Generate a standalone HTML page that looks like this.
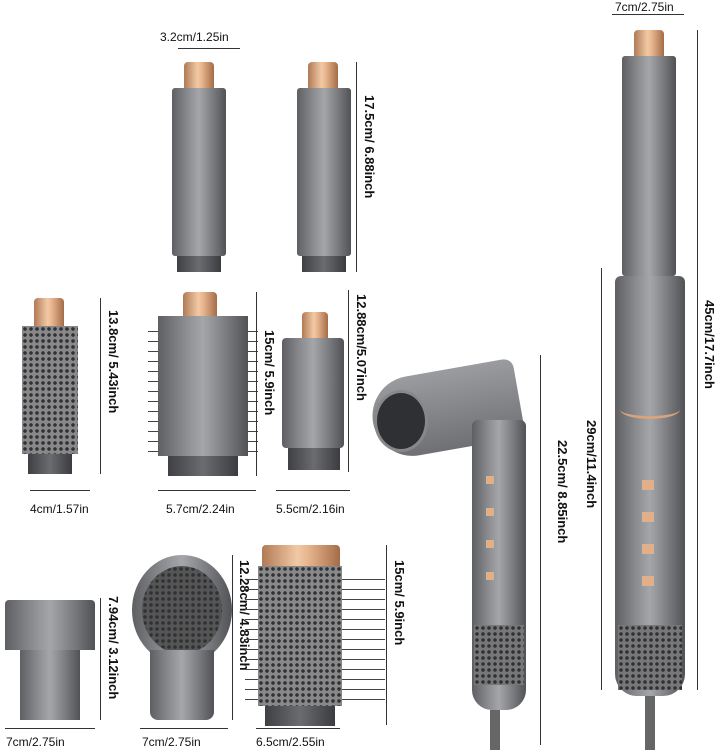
<!DOCTYPE html>
<html><head><meta charset="utf-8"><style>
body{margin:0;width:720px;height:750px;background:#fff;position:relative;overflow:hidden;font-family:"Liberation Sans",sans-serif;color:#111}
.a{position:absolute}
.g{background:linear-gradient(90deg,#5d5f63,#8a8c90 30%,#a4a6aa 50%,#7b7d81 75%,#505256)}
.cu{background:linear-gradient(90deg,#b07a55,#f2c9a5 45%,#e6b48c 60%,#a36c48);border-radius:4px 4px 0 0}
.dk{background:linear-gradient(90deg,#3e4044,#6a6c70 50%,#3a3c40)}
.t{position:absolute;font-size:12px;white-space:nowrap}
.v{writing-mode:vertical-rl;font-size:13px;font-weight:bold;position:absolute;white-space:nowrap}
.hl{position:absolute;height:1px;background:#333}
.vl{position:absolute;width:1px;background:#333}
.dots{background-image:radial-gradient(circle,#2f3135 1.6px,transparent 2px);background-size:6px 6px}
.bri{background-image:repeating-linear-gradient(180deg,transparent 0 9px,#444 9px 10px)}
</style></head><body>
<!-- top barrels -->
<div class="t" style="left:160px;top:30px">3.2cm/1.25in</div>
<div class="hl" style="left:178px;top:48px;width:62px"></div>
<div class="a cu" style="left:184px;top:62px;width:30px;height:28px"></div>
<div class="a g" style="left:172px;top:88px;width:54px;height:168px;border-radius:3px"></div>
<div class="a dk" style="left:177px;top:256px;width:44px;height:16px"></div>
<div class="a cu" style="left:308px;top:62px;width:30px;height:28px"></div>
<div class="a g" style="left:297px;top:88px;width:54px;height:168px;border-radius:3px"></div>
<div class="a dk" style="left:302px;top:256px;width:44px;height:16px"></div>
<div class="vl" style="left:356px;top:62px;height:210px"></div>
<div class="v" style="left:362px;top:95px">17.5cm/ 6.88inch</div>
<!-- row2 -->
<div class="a cu" style="left:34px;top:298px;width:30px;height:28px"></div>
<div class="a g dots" style="left:22px;top:326px;width:56px;height:128px;background-color:#888"></div>
<div class="a dk" style="left:28px;top:454px;width:44px;height:20px"></div>
<div class="vl" style="left:100px;top:298px;height:176px"></div>
<div class="v" style="left:106px;top:310px">13.8cm/ 5.43inch</div>
<div class="a cu" style="left:183px;top:292px;width:34px;height:26px"></div>
<div class="a bri" style="left:148px;top:322px;width:110px;height:130px"></div>
<div class="a g" style="left:158px;top:316px;width:90px;height:140px"></div>
<div class="a dk" style="left:168px;top:456px;width:70px;height:20px"></div>
<div class="vl" style="left:256px;top:292px;height:184px"></div>
<div class="v" style="left:262px;top:330px">15cm/ 5.9inch</div>
<div class="a cu" style="left:302px;top:312px;width:26px;height:26px"></div>
<div class="a g" style="left:282px;top:338px;width:62px;height:110px;border-radius:4px"></div>
<div class="a dk" style="left:288px;top:448px;width:52px;height:22px"></div>
<div class="vl" style="left:348px;top:290px;height:182px"></div>
<div class="v" style="left:354px;top:294px">12.88cm/5.07inch</div>
<div class="hl" style="left:30px;top:490px;width:60px"></div>
<div class="t" style="left:30px;top:502px">4cm/1.57in</div>
<div class="hl" style="left:158px;top:490px;width:98px"></div>
<div class="t" style="left:166px;top:502px">5.7cm/2.24in</div>
<div class="hl" style="left:276px;top:490px;width:74px"></div>
<div class="t" style="left:276px;top:502px">5.5cm/2.16in</div>
<!-- row3 -->
<div class="a g" style="left:5px;top:600px;width:90px;height:50px;border-radius:4px 4px 0 0"></div>
<div class="a g" style="left:20px;top:650px;width:60px;height:70px"></div>
<div class="vl" style="left:100px;top:598px;height:122px"></div>
<div class="v" style="left:106px;top:596px">7.94cm/ 3.12inch</div>
<div class="a g" style="left:132px;top:555px;width:100px;height:110px;border-radius:50%"></div>
<div class="a dots" style="left:142px;top:566px;width:80px;height:88px;border-radius:50%;background-color:#555"></div>
<div class="a g" style="left:150px;top:650px;width:64px;height:70px;border-radius:0 0 8px 8px"></div>
<div class="vl" style="left:232px;top:555px;height:165px"></div>
<div class="v" style="left:237px;top:560px">12.28cm/ 4.83inch</div>
<div class="a cu" style="left:262px;top:545px;width:78px;height:22px"></div>
<div class="a bri" style="left:245px;top:570px;width:140px;height:130px"></div>
<div class="a g dots" style="left:258px;top:566px;width:84px;height:140px;background-color:#888"></div>
<div class="a dk" style="left:265px;top:706px;width:70px;height:20px"></div>
<div class="vl" style="left:386px;top:545px;height:180px"></div>
<div class="v" style="left:392px;top:560px">15cm/ 5.9inch</div>
<div class="hl" style="left:5px;top:728px;width:90px"></div>
<div class="t" style="left:6px;top:735px">7cm/2.75in</div>
<div class="hl" style="left:140px;top:728px;width:88px"></div>
<div class="t" style="left:142px;top:735px">7cm/2.75in</div>
<div class="hl" style="left:256px;top:728px;width:84px"></div>
<div class="t" style="left:256px;top:735px">6.5cm/2.55in</div>
<!-- dryer -->
<div class="a" style="left:372px;top:370px;width:148px;height:80px;background:linear-gradient(180deg,#9a9ca0,#6e7074);border-radius:40px 10px 10px 40px;transform:rotate(-10deg)"></div>
<div class="a" style="left:374px;top:390px;width:48px;height:56px;border-radius:50%;background:#2e3034;border:3px solid #888"></div>
<div class="a g" style="left:472px;top:420px;width:54px;height:290px;border-radius:6px 6px 20px 20px"></div>
<div class="a dots" style="left:474px;top:625px;width:50px;height:60px;background-color:#777"></div>
<div class="a" style="left:486px;top:476px;width:8px;height:110px;background:repeating-linear-gradient(180deg,#e0b08a 0 8px,transparent 8px 32px)"></div>
<div class="a" style="left:490px;top:710px;width:10px;height:40px;background:#666"></div>
<div class="vl" style="left:540px;top:355px;height:390px"></div>
<div class="v" style="left:555px;top:440px">22.5cm/ 8.85inch</div>
<!-- tall -->
<div class="t" style="left:615px;top:0px">7cm/2.75in</div>
<div class="hl" style="left:612px;top:14px;width:72px"></div>
<div class="a cu" style="left:634px;top:30px;width:30px;height:26px"></div>
<div class="a g" style="left:622px;top:56px;width:54px;height:220px;border-radius:3px"></div>
<div class="a g" style="left:615px;top:276px;width:70px;height:420px;border-radius:6px 6px 22px 22px"></div>
<div class="a" style="left:620px;top:400px;width:60px;height:16px;border-bottom:3px solid #d9a37c;border-radius:0 0 50% 50%"></div>
<div class="a dots" style="left:618px;top:625px;width:64px;height:65px;background-color:#777"></div>
<div class="a" style="left:642px;top:480px;width:12px;height:110px;background:repeating-linear-gradient(180deg,#e0b08a 0 10px,transparent 10px 32px)"></div>
<div class="a" style="left:645px;top:696px;width:10px;height:54px;background:#666"></div>
<div class="vl" style="left:601px;top:268px;height:422px"></div>
<div class="v" style="left:584px;top:420px">29cm/11.4inch</div>
<div class="vl" style="left:697px;top:30px;height:660px"></div>
<div class="v" style="left:702px;top:300px">45cm/17.7inch</div>
</body></html>
